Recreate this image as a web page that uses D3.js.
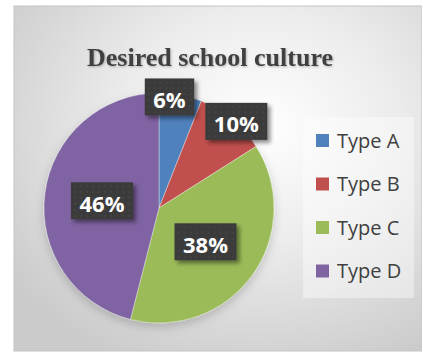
<!DOCTYPE html>
<html>
<head>
<meta charset="utf-8">
<script src="https://cdn.jsdelivr.net/npm/d3@7"></script>
<style>
  html, body { margin: 0; padding: 0; background: #ffffff; }
  svg { display: block; }
</style>
</head>
<body>
<svg id="chart" width="422" height="356"></svg>
<script>
// Chart content
const title = "Desired school culture";
const categories = ["Type A", "Type B", "Type C", "Type D"];
const shares = [6, 10, 38, 46];
const colors = ["#4F81BD", "#C0504D", "#9BBB59", "#8064A2"];

const W = 422, H = 356;
const svg = d3.select("#chart");
const defs = svg.append("defs");

// Soft radial backdrop of the chart area
const bg = defs.append("radialGradient").attr("id", "bgGrad")
  .attr("cx", "0.6").attr("cy", "0.35").attr("r", "0.75");
bg.append("stop").attr("offset", "0").attr("stop-color", "#ffffff");
bg.append("stop").attr("offset", "0.45").attr("stop-color", "#ececec");
bg.append("stop").attr("offset", "1").attr("stop-color", "#cbcbcb");

// Dotted fill for the data label boxes
const pat = defs.append("pattern").attr("id", "dots")
  .attr("patternUnits", "userSpaceOnUse").attr("width", 6).attr("height", 6);
pat.append("rect").attr("width", 6).attr("height", 6).attr("fill", "#3a3a3a");
pat.append("rect").attr("x", 2.5).attr("y", 2.5).attr("width", 1.2).attr("height", 1.2).attr("fill", "#555555");

// Drop shadows
const sh = defs.append("filter").attr("id", "boxShadow")
  .attr("x", "-30%").attr("y", "-30%").attr("width", "170%").attr("height", "170%");
sh.append("feDropShadow").attr("dx", 3).attr("dy", 3).attr("stdDeviation", 2.2)
  .attr("flood-color", "#000").attr("flood-opacity", 0.45);

const pieSh = defs.append("filter").attr("id", "pieShadow")
  .attr("x", "-20%").attr("y", "-20%").attr("width", "140%").attr("height", "140%");
pieSh.append("feDropShadow").attr("dx", 0).attr("dy", 4).attr("stdDeviation", 5)
  .attr("flood-color", "#000").attr("flood-opacity", 0.18);

const txtSh = defs.append("filter").attr("id", "textShadow");
txtSh.append("feDropShadow").attr("dx", 1).attr("dy", 1).attr("stdDeviation", 0.8)
  .attr("flood-color", "#000").attr("flood-opacity", 0.25);

// Chart area
svg.append("rect")
  .attr("x", 14).attr("y", 6).attr("width", W - 14).attr("height", 345)
  .attr("fill", "url(#bgGrad)")
  .attr("stroke", "#c4c4c4").attr("stroke-width", 1);

// Title
svg.append("text")
  .attr("x", 210).attr("y", 66)
  .attr("text-anchor", "middle")
  .attr("font-family", "'Liberation Serif', 'Times New Roman', serif")
  .attr("font-weight", "bold")
  .attr("font-size", 26)
  .attr("fill", "#404040")
  .attr("filter", "url(#textShadow)")
  .text(title);

// Pie
const cx = 159, cy = 208, R = 115;
const data = categories.map((c, i) => ({ name: c, value: shares[i], color: colors[i] }));
const pie = d3.pie().value(d => d.value).sort(null).startAngle(0).endAngle(2 * Math.PI);
const arcs = pie(data);
const arc = d3.arc().innerRadius(0).outerRadius(R);

const g = svg.append("g").attr("transform", `translate(${cx},${cy})`);
g.append("g").attr("filter", "url(#pieShadow)")
  .selectAll("path").data(arcs).join("path")
  .attr("d", arc)
  .attr("fill", d => d.data.color)
  .attr("stroke", "rgba(255,255,255,0.45)")
  .attr("stroke-width", 0.8);

// Label placement along each slice: radius as fraction of R, position within slice span
const labelRadius = [0.97, 1.01, 0.5, 0.5];
const labelSpan = [0.25, 0.56, 0.5, 0.5];

const labels = g.selectAll("g.lbl").data(arcs).join("g").attr("class", "lbl")
  .attr("transform", (d, i) => {
    const a = d.startAngle + (d.endAngle - d.startAngle) * labelSpan[i];
    const r = R * labelRadius[i];
    return `translate(${r * Math.sin(a)},${-r * Math.cos(a)})`;
  });

labels.each(function(d) {
  const sel = d3.select(this);
  const t = sel.append("text")
    .attr("text-anchor", "middle")
    .attr("y", 11)
    .attr("font-family", "'Open Sans', sans-serif")
    .attr("font-weight", "bold")
    .attr("font-size", 22)
    .attr("fill", "#ffffff")
    .text(d.data.value + "%");
  const bw = t.node().getComputedTextLength() + 17;
  sel.insert("rect", "text")
    .attr("x", -bw / 2).attr("y", -18.5)
    .attr("width", bw).attr("height", 37)
    .attr("fill", "url(#dots)")
    .attr("filter", "url(#boxShadow)");
});

// Legend
svg.append("rect")
  .attr("x", 303).attr("y", 117).attr("width", 111).attr("height", 181)
  .attr("fill", "#ffffff").attr("fill-opacity", 0.4);

const legendY = d3.scalePoint().domain(categories).range([140.5, 271]);
const leg = svg.append("g").selectAll("g").data(data).join("g")
  .attr("transform", d => `translate(316,${legendY(d.name)})`);
leg.append("rect")
  .attr("x", 0).attr("y", -6.5).attr("width", 13).attr("height", 13)
  .attr("fill", d => d.color);
leg.append("text")
  .attr("x", 21).attr("y", 7)
  .attr("font-family", "'Open Sans', sans-serif")
  .attr("font-size", 20)
  .attr("fill", "#404040")
  .text(d => d.name);
</script>
</body>
</html>
